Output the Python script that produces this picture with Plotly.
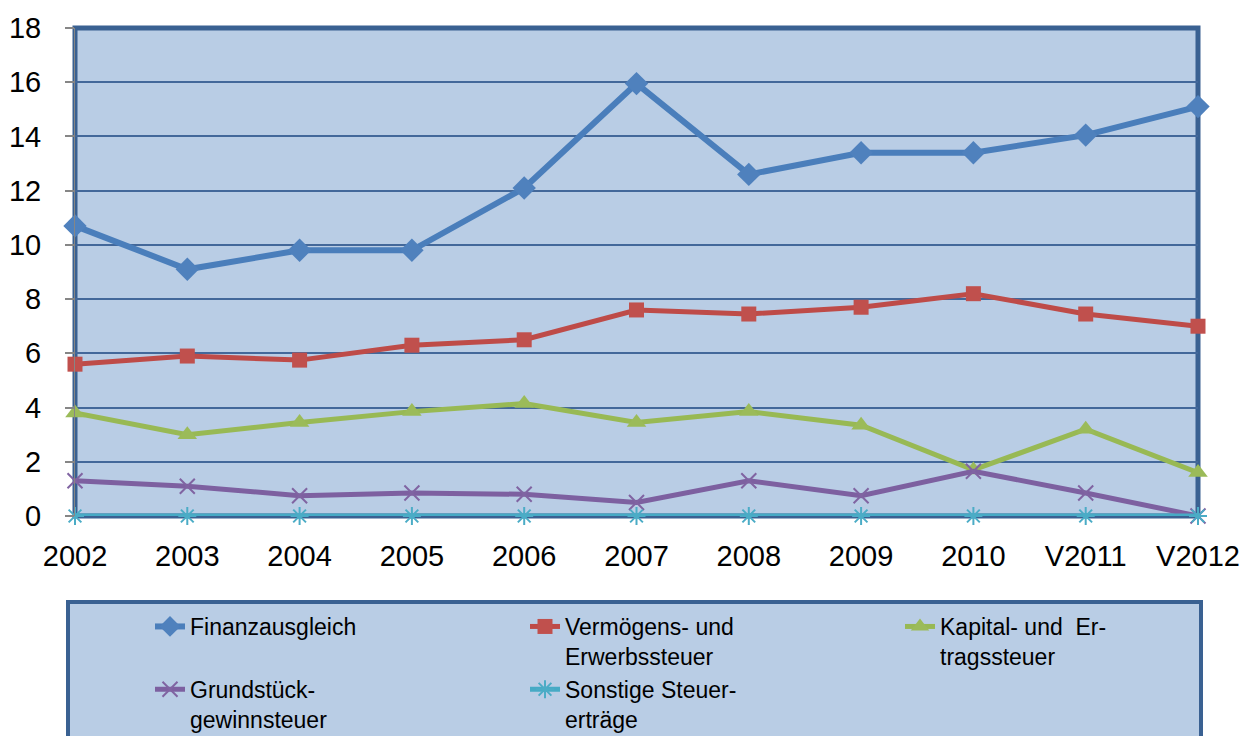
import plotly.graph_objects as go

categories = ["2002", "2003", "2004", "2005", "2006", "2007", "2008", "2009", "2010", "V2011", "V2012"]
finanzausgleich = [10.7, 9.1, 9.8, 9.8, 12.1, 15.95, 12.6, 13.4, 13.4, 14.05, 15.1]
vermoegens = [5.6, 5.9, 5.75, 6.3, 6.5, 7.6, 7.45, 7.7, 8.2, 7.45, 7.0]
kapital = [3.8, 3.0, 3.45, 3.85, 4.15, 3.45, 3.85, 3.35, 1.7, 3.2, 1.6]
grundstueck = [1.3, 1.1, 0.75, 0.85, 0.8, 0.5, 1.3, 0.75, 1.65, 0.85, 0.0]
sonstige = [0, 0, 0, 0, 0, 0, 0, 0, 0, 0, 0]
yticks = [0, 2, 4, 6, 8, 10, 12, 14, 16, 18]

series = [
    ("Finanzausgleich", finanzausgleich, "#4A7EBB", "#4F81BD", "diamond", 18, 6),
    ("Vermögens- und<br>Erwerbssteuer", vermoegens, "#BE4B48", "#C0504D", "square", 15, 5),
    ("Kapital- und  Er-<br>tragssteuer", kapital, "#98B954", "#9BBB59", "triangle-up", 17, 5),
    ("Grundstück-<br>gewinnsteuer", grundstueck, "#7D60A0", "#8064A2", "x-thin-open", 15, 5),
    ("Sonstige Steuer-<br>erträge", sonstige, "#46AAC5", "#4BACC6", "asterisk-open", 15, 5),
]

fig = go.Figure()
for name, vals, lc, mc, sym, ms, lw in series:
    open_sym = sym.endswith("open")
    fig.add_trace(go.Scatter(
        x=categories, y=vals, name=name, mode="lines+markers",
        line=dict(color=lc, width=lw),
        marker=dict(symbol=sym, size=ms, color=mc,
                    line=dict(color=mc, width=2 if open_sym else 0)),
        cliponaxis=False,
    ))

L, R, T, B = 75, 51, 28, 220
W, H = 1249, 736
pw, ph = W - L - R, H - T - B

def px_x(p):
    return (p - L) / pw

def px_y(p):
    return (H - B - p) / ph

fig.update_layout(
    width=W, height=H,
    margin=dict(l=L, r=R, t=T, b=B, autoexpand=False),
    paper_bgcolor="white",
    plot_bgcolor="#B9CDE5",
    font=dict(family="Liberation Sans, Arial, sans-serif", color="black"),
    showlegend=True,
    legend=dict(
        orientation="h",
        x=px_x(150), y=px_y(605), xanchor="left", yanchor="top",
        bgcolor="rgba(0,0,0,0)", borderwidth=0,
        font=dict(size=23, color="black"),
        entrywidth=330, entrywidthmode="pixels",
        valign="top", tracegroupgap=0, itemclick=False,
    ),
    xaxis=dict(
        type="category", range=[0, 10], showgrid=False, zeroline=False,
        showline=False, ticks="", tickfont=dict(size=29),
        ticklabelstandoff=20,
    ),
    yaxis=dict(
        range=[0, 18], tickvals=yticks, showgrid=True,
        gridcolor="#43689A", gridwidth=2, zeroline=False,
        showline=True, linecolor="#868686", linewidth=1,
        ticks="outside", ticklen=9, tickcolor="#868686", tickwidth=2,
        tickfont=dict(size=29), ticklabelstandoff=18,
    ),
    shapes=[
        dict(type="rect", xref="paper", yref="paper", x0=0, x1=1, y0=0, y1=1,
             line=dict(color="#3A6192", width=5), fillcolor="rgba(0,0,0,0)",
             layer="between"),
        dict(type="rect", xref="paper", yref="paper",
             x0=px_x(68), x1=px_x(1201), y0=px_y(602), y1=px_y(760),
             line=dict(color="#3A6192", width=4), fillcolor="#B9CDE5",
             layer="below"),
    ],
)

fig.write_html("out.html")
